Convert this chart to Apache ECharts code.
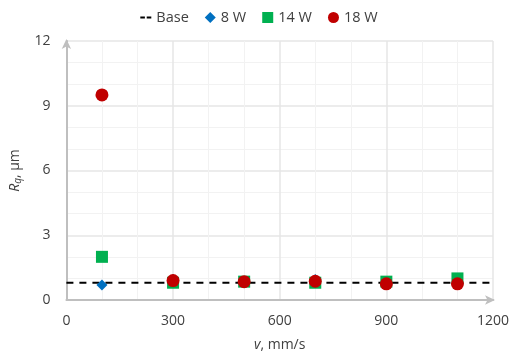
<!DOCTYPE html>
<html><head><meta charset="utf-8">
<script src="https://cdn.jsdelivr.net/npm/echarts@6/dist/echarts.min.js"></script>
<style>html,body{margin:0;padding:0;background:#fff}#c{width:518px;height:361px}</style>
</head><body><div id="c"></div>
<script>
const speeds = [100, 300, 500, 700, 900, 1100];
const baseX = [0, 1200];
const baseY = [0.8, 0.8];
const w8 = [0.7, 0.95, 0.85, 0.95, 0.8, 0.8];
const w14 = [2.0, 0.8, 0.85, 0.8, 0.85, 1.0];
const w18 = [9.5, 0.9, 0.85, 0.87, 0.75, 0.75];
const xTicks = [0, 300, 600, 900, 1200];
const yTicks = [0, 3, 6, 9, 12];

const pair = (xs, ys) => xs.map((x, i) => [x, ys[i]]);
const font = '"Open Sans", "Liberation Sans", sans-serif';
const txt = '#404040';
const chart = echarts.init(document.getElementById('c'));
chart.setOption({
  animation: false,
  textStyle: {fontFamily: font},
  legend: {
    top: 5, left: 'center', itemGap: 16, itemWidth: 11, itemHeight: 11,
    textStyle: {fontSize: 14.5, color: txt, fontFamily: font},
    data: [
      {name: 'Base', icon: 'path://M0,0h5v2h-5zM7,0h5v2h-5z', itemStyle: {color: '#000'}},
      {name: '8 W', icon: 'diamond'},
      {name: '14 W', icon: 'rect'},
      {name: '18 W', icon: 'circle'}
    ]
  },
  grid: {left: 64, right: 25, top: 41, bottom: 61},
  xAxis: {
    type: 'value', min: xTicks[0], max: xTicks[xTicks.length - 1], interval: 300,
    axisLine: {show: true, lineStyle: {color: '#bfbfbf', width: 2}, symbol: ['none', 'arrow'], symbolSize: [7, 10], symbolOffset: [0, 2]},
    axisTick: {show: false},
    axisLabel: {fontSize: 14, color: txt, margin: 14, fontFamily: font, formatter: v => String(v)},
    splitLine: {show: true, lineStyle: {color: '#e6e6e6', width: 1.5}},
    minorTick: {show: false, splitNumber: 3},
    minorSplitLine: {show: true, lineStyle: {color: '#f2f2f2', width: 1}},
    name: '{i|v}{n|, mm/s}', nameLocation: 'middle', nameGap: 38,
    nameTextStyle: {rich: {i: {fontStyle: 'italic', fontSize: 14, color: txt, fontFamily: font}, n: {fontSize: 14, color: txt, fontFamily: font}}}
  },
  yAxis: {
    type: 'value', min: yTicks[0], max: yTicks[yTicks.length - 1], interval: 3,
    axisLine: {show: true, lineStyle: {color: '#bfbfbf', width: 2}, symbol: ['none', 'arrow'], symbolSize: [7, 10], symbolOffset: [0, 2]},
    axisTick: {show: false},
    axisLabel: {fontSize: 14, color: txt, margin: 16, fontFamily: font, formatter: v => String(v)},
    splitLine: {show: true, lineStyle: {color: '#e6e6e6', width: 1.5}},
    minorTick: {show: false, splitNumber: 3},
    minorSplitLine: {show: true, lineStyle: {color: '#f2f2f2', width: 1}},
    name: '{i|R}{s|q}{n|, µm}', nameLocation: 'middle', nameGap: 36, nameRotate: 90,
    nameTextStyle: {rich: {
      i: {fontStyle: 'italic', fontSize: 14, color: txt, fontFamily: font},
      s: {fontStyle: 'italic', fontSize: 10, color: txt, verticalAlign: 'bottom', padding: [7, 0, 0, 0], fontFamily: font},
      n: {fontSize: 14, color: txt, fontFamily: font}
    }}
  },
  series: [
    {name: 'Base', type: 'line', data: pair(baseX, baseY), symbol: 'none', z: 1,
     lineStyle: {color: '#000', width: 2, type: [7, 6]}, itemStyle: {color: '#000'}},
    {name: '8 W', type: 'scatter', data: pair(speeds, w8), symbol: 'diamond', symbolSize: 11, z: 2, itemStyle: {color: '#0070c0', opacity: 1}},
    {name: '14 W', type: 'scatter', data: pair(speeds, w14), symbol: 'rect', symbolSize: 12, z: 3, itemStyle: {color: '#00b050', opacity: 1}},
    {name: '18 W', type: 'scatter', data: pair(speeds, w18), symbol: 'circle', symbolSize: 13, z: 4, itemStyle: {color: '#c00000', opacity: 1}}
  ]
});
</script></body></html>
